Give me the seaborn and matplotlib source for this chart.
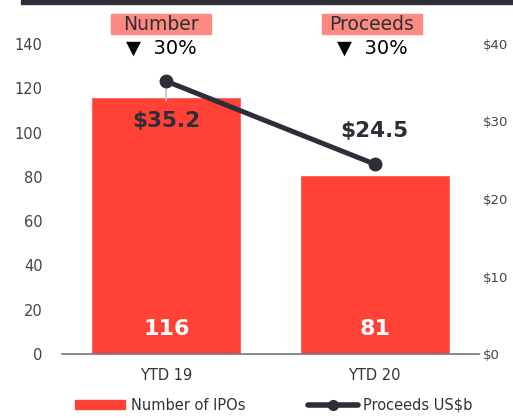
import matplotlib
matplotlib.use("Agg")
import matplotlib.pyplot as plt
import seaborn as sns
import pandas as pd
from matplotlib.patches import Rectangle
from matplotlib.lines import Line2D
from matplotlib.patches import Patch

categories = ["YTD 19", "YTD 20"]
ipo_counts = [116, 81]
proceeds = [35.2, 24.5]
proceeds_labels = ["$35.2", "$24.5"]
left_ticks = [0, 20, 40, 60, 80, 100, 120, 140]
right_ticks = [0, 10, 20, 30, 40]
right_tick_labels = ["$0", "$10", "$20", "$30", "$40"]
headers = ["Number", "Proceeds"]
changes = ["▼  30%", "▼  30%"]

RED = "#ff4136"
DARK = "#2e2e38"
GRAY = "#333333"

sns.set_theme(style="white")
plt.rcParams['font.family'] = ['DejaVu Sans']

df = pd.DataFrame({"cat": categories, "ipos": ipo_counts, "proc": proceeds})

fig = plt.figure(figsize=(5.13, 4.18), dpi=100)
ax = fig.add_axes([62/513, (418-354)/418, (479-62)/513, (354-44)/418])

sns.barplot(data=df, x="cat", y="ipos", color=RED, saturation=1, width=0.72, ax=ax)
ax.set_xlim(-0.5, 1.5)
ax.set_ylim(0, 140)
ax.set_yticks(left_ticks)
ax.tick_params(axis="y", labelsize=10.5, colors="#444444", length=0, pad=14)
ax.tick_params(axis="x", labelsize=10.5, colors=GRAY, length=0, pad=10)
ax.set_xlabel("")
ax.set_ylabel("")
for s in ["top", "right", "left"]:
    ax.spines[s].set_visible(False)
ax.spines["bottom"].set_color("#747480")
ax.spines["bottom"].set_linewidth(1.2)

for i, v in enumerate(ipo_counts):
    ax.text(i, 11.5, str(v), ha="center", va="center", color="white",
            fontsize=16, fontweight="bold")

ax2 = ax.twinx()
ax2.set_ylim(0, 40)
ax2.set_yticks(right_ticks)
ax2.set_yticklabels(right_tick_labels)
ax2.tick_params(axis="y", labelsize=9.5, colors="#444444", length=0, pad=3)
for s in ["top", "right", "left", "bottom"]:
    ax2.spines[s].set_visible(False)
ax2.grid(False)

# leader line
ax2.plot([0, 0], [proceeds[0], proceeds[0] - 2.6], color="#c0c0cc", lw=1.2, zorder=2)
sns.lineplot(x=[0, 1], y=proceeds, ax=ax2, color=DARK, lw=3.6, marker="o",
             markersize=10, markeredgewidth=0, zorder=3)
ax2.text(0, proceeds[0] - 5.2, proceeds_labels[0], ha="center", va="center",
         color=DARK, fontsize=15.5, fontweight="bold")
ax2.text(1, proceeds[1] + 4.3, proceeds_labels[1], ha="center", va="center",
         color=DARK, fontsize=15.5, fontweight="bold")

# headers
hx = [161/513, 372/513]
for x, h, c in zip(hx, headers, changes):
    fig.patches.append(Rectangle((x - 50/513, 1 - 34/418), 100/513, 20/418,
                                 transform=fig.transFigure, color="#fd8a81", zorder=1))
    fig.text(x, 1 - 24/418, h, ha="center", va="center", fontsize=13.5, color=DARK, zorder=2)
    fig.text(x, 1 - 48/418, c, ha="center", va="center", fontsize=14, color="black")

# top dark band
fig.patches.append(Rectangle((21/513, 1 - 4/418), 1, 4/418, transform=fig.transFigure,
                             color=DARK, zorder=5))

handles = [Patch(color=RED, label="Number of IPOs"),
           Line2D([0], [0], color=DARK, lw=4, marker="o", markersize=7, label="Proceeds US$b")]
fig.legend(handles=handles, loc="center", bbox_to_anchor=(274/513, 1 - 405/418), ncol=2,
           frameon=False, fontsize=10.5, handlelength=3.4, handleheight=0.6,
           handletextpad=0.4, columnspacing=4.3, labelcolor=GRAY)

fig.savefig("out.png", dpi=100)
